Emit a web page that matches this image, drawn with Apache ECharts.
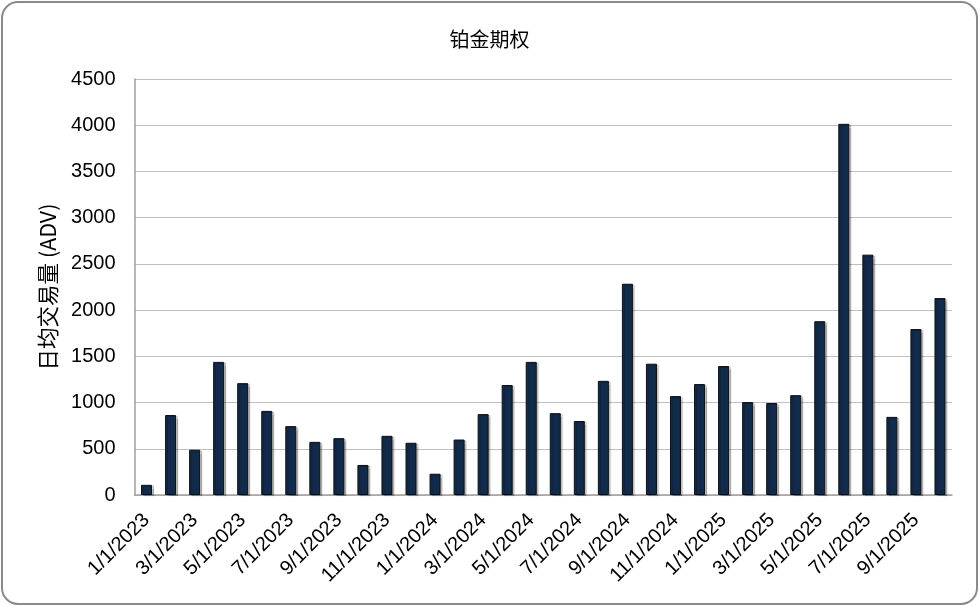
<!DOCTYPE html>
<html>
<head>
<meta charset="utf-8">
<script src="https://cdn.jsdelivr.net/npm/echarts@6/dist/echarts.min.js"></script>
<style>
html,body{margin:0;padding:0;background:#fff;}
#chart{width:979px;height:606px;}
</style>
</head>
<body>
<div id="chart"></div>
<script>
const categories = [
  '1/1/2023','2/1/2023','3/1/2023','4/1/2023','5/1/2023','6/1/2023','7/1/2023','8/1/2023','9/1/2023','10/1/2023','11/1/2023','12/1/2023',
  '1/1/2024','2/1/2024','3/1/2024','4/1/2024','5/1/2024','6/1/2024','7/1/2024','8/1/2024','9/1/2024','10/1/2024','11/1/2024','12/1/2024',
  '1/1/2025','2/1/2025','3/1/2025','4/1/2025','5/1/2025','6/1/2025','7/1/2025','8/1/2025','9/1/2025','10/1/2025'
];
const adv = [
  110, 865, 490, 1440, 1210, 910, 745, 575, 615, 325, 640, 565,
  230, 600, 875, 1190, 1440, 885, 800, 1235, 2285, 1420, 1070, 1200,
  1395, 1005, 995, 1080, 1880, 4015, 2600, 845, 1795, 2130
];
const yTicks = {min: 0, max: 4500, interval: 500};
const titleText = '铂金期权';
const yName = '日均交易量 (ADV)';

const FONT = '"Liberation Sans", Arial, sans-serif';
const chart = echarts.init(document.getElementById('chart'));
chart.setOption({
  backgroundColor: '#ffffff',
  animation: false,
  title: {
    text: titleText,
    left: 'center',
    top: 24,
    textStyle: {fontFamily: '"Noto Sans CJK SC", sans-serif', fontSize: 20, fontWeight: 'normal', color: '#000'}
  },
  graphic: [{
    type: 'rect',
    silent: true,
    shape: {x: 2, y: 2, width: 975, height: 602, r: 16},
    style: {fill: 'none', stroke: '#8a8a8a', lineWidth: 2}
  }],
  grid: {left: 134.5, right: 27, top: 79, bottom: 111},
  xAxis: {
    type: 'category',
    data: categories,
    axisLine: {show: true, lineStyle: {color: '#a0a0a0', width: 1.5}},
    axisTick: {show: false},
    axisLabel: {
      interval: 1,
      rotate: 45,
      margin: 22,
      fontFamily: FONT,
      fontSize: 20,
      color: '#000'
    }
  },
  yAxis: {
    type: 'value',
    min: yTicks.min,
    max: yTicks.max,
    interval: yTicks.interval,
    name: yName,
    nameLocation: 'middle',
    nameRotate: 90,
    nameGap: 76,
    nameTextStyle: {fontFamily: '"Noto Sans CJK SC", ' + FONT, fontSize: 21.5, color: '#000'},
    axisLine: {show: true, lineStyle: {color: '#a0a0a0', width: 1.5}},
    axisTick: {show: false},
    axisLabel: {fontFamily: FONT, fontSize: 20, color: '#000', margin: 19, formatter: v => String(v)},
    splitLine: {show: true, lineStyle: {color: '#c0c0c0', width: 1.2}}
  },
  series: [{
    type: 'bar',
    data: adv,
    barWidth: 11,
    itemStyle: {
      color: '#132b4b',
      borderColor: '#0a0f18',
      borderWidth: 1,
      shadowColor: 'rgba(0,0,0,0.22)',
      shadowOffsetX: 2,
      shadowOffsetY: 1,
      shadowBlur: 1
    }
  }]
});
</script>
</body>
</html>
